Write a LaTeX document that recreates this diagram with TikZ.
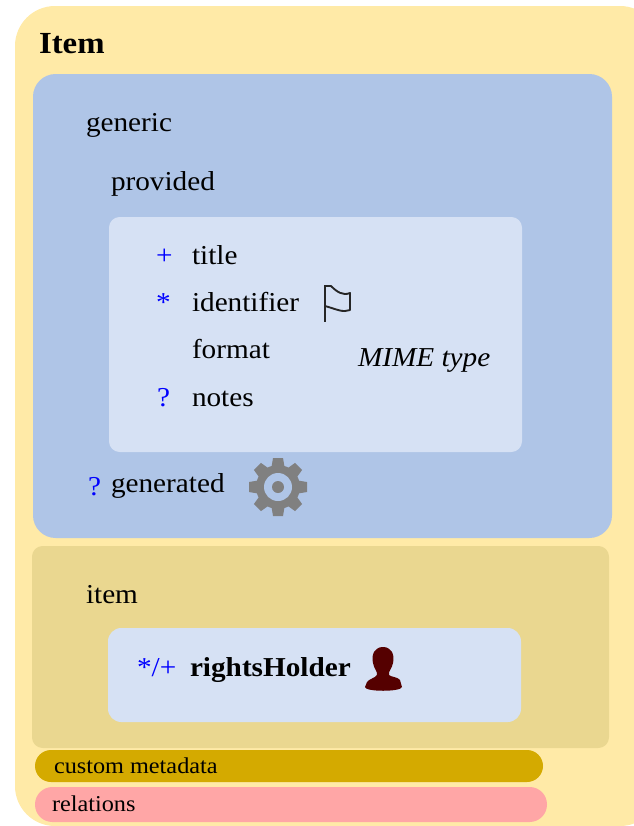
\documentclass[tikz,border=0pt]{standalone}
\usepackage{fontspec}
\setmainfont{Liberation Serif}[FakeStretch=1.07]
\definecolor{outerc}{HTML}{FFEAA7}
\definecolor{bluec}{HTML}{AFC5E7}
\definecolor{lightc}{HTML}{D6E1F4}
\definecolor{bandc}{HTML}{EAD790}
\definecolor{goldc}{HTML}{D4AA00}
\definecolor{pinkc}{HTML}{FFA6A6}
\definecolor{manc}{HTML}{550000}
\definecolor{gearc}{HTML}{808080}
\definecolor{markc}{HTML}{0000FF}
\tikzset{
  lab/.style={anchor=base west,inner sep=0pt,outer sep=0pt,font=\fontsize{20.5}{24}\selectfont},
  small/.style={anchor=base west,inner sep=0pt,outer sep=0pt,font=\fontsize{17}{20}\selectfont},
  bluemark/.style={anchor=base west,inner sep=0pt,outer sep=0pt,text=markc,font=\fontsize{20.5}{24}\selectfont}
}
\begin{document}
\begin{tikzpicture}[x=0.75pt,y=-0.75pt]
\useasboundingbox (0,0) rectangle (634,826);
\fill[white] (0,0) rectangle (634,826);
% panels
\begin{scope}
\clip (0,0) rectangle (634,826);
\fill[outerc,rounded corners=30pt] (15,6) rectangle (660,826);
\end{scope}
\fill[bluec,rounded corners=17pt] (33,74) rectangle (612,538);
\fill[lightc,rounded corners=8pt] (109,217) rectangle (522,452);
\fill[bandc,rounded corners=8pt] (32,546) rectangle (609,748);
\fill[lightc,rounded corners=10pt] (108,628) rectangle (521,722);
\fill[goldc,rounded corners=12pt] (35,750) rectangle (543,782);
\fill[pinkc,rounded corners=13pt] (35,787) rectangle (547,822);
% text
\node[lab,font=\fontsize{23}{26}\selectfont\bfseries] (item) at (39,53) {Item};
\node[lab] (generic) at (86,131) {generic};
\node[lab] (provided) at (111,190) {provided};
\node[bluemark] (m1) at (156,264) {+};
\node[lab] (title) at (192,264) {title};
\node[bluemark] (m2) at (156,311) {*};
\node[lab] (identifier) at (192,311) {identifier};
\node[lab] (format) at (192,358) {format};
\node[lab,font=\fontsize{20.5}{24}\selectfont\itshape] (mime) at (358,366) {MIME type};
\node[bluemark] (m3) at (157,406) {?};
\node[lab] (notes) at (192,406) {notes};
\node[bluemark] (m4) at (88,495) {?};
\node[lab] (generated) at (111,492) {generated};
\node[lab] (itemlab) at (86,603) {item};
\node[bluemark] (m5) at (137,676) {*/+};
\node[lab,font=\fontsize{20.5}{24}\selectfont\bfseries] (rights) at (190,676) {rightsHolder};
\node[small] (custom) at (54,773) {custom metadata};
\node[small] (relations) at (52,811) {relations};
% flag
\draw[black!85,line width=1.4pt,line join=round]
  (324,286) -- (331,286)
  .. controls (337,292) and (343,296) .. (350,293)
  -- (350,310)
  .. controls (343,313) and (336,309) .. (325,306);
\draw[black!85,line width=2pt] (325,286) -- (325,322);
% gear
\begin{scope}[shift={(278,487)}]
  \foreach \a in {0,45,...,315}{
    \fill[gearc,rotate=\a] (-5,-29) -- (5,-29) -- (7,-17) -- (-7,-17) -- cycle;
  }
  \fill[gearc] (0,0) circle[radius=22];
  \fill[bluec] (0,0) circle[radius=14];
  \fill[gearc] (0,0) circle[radius=6];
\end{scope}
% person
\fill[manc] (383,647)
  .. controls (375,647) and (371,654) .. (373,663)
  .. controls (374,669) and (378,672) .. (377,675)
  .. controls (375,678) and (369,679) .. (367,682)
  -- (365,687)
  .. controls (365,692) and (401,692) .. (402,687)
  -- (400,680)
  .. controls (398,677) and (391,677) .. (389,675)
  .. controls (388,671) and (392,669) .. (393,663)
  .. controls (395,654) and (391,647) .. (383,647) -- cycle;
\end{tikzpicture}
\end{document}
